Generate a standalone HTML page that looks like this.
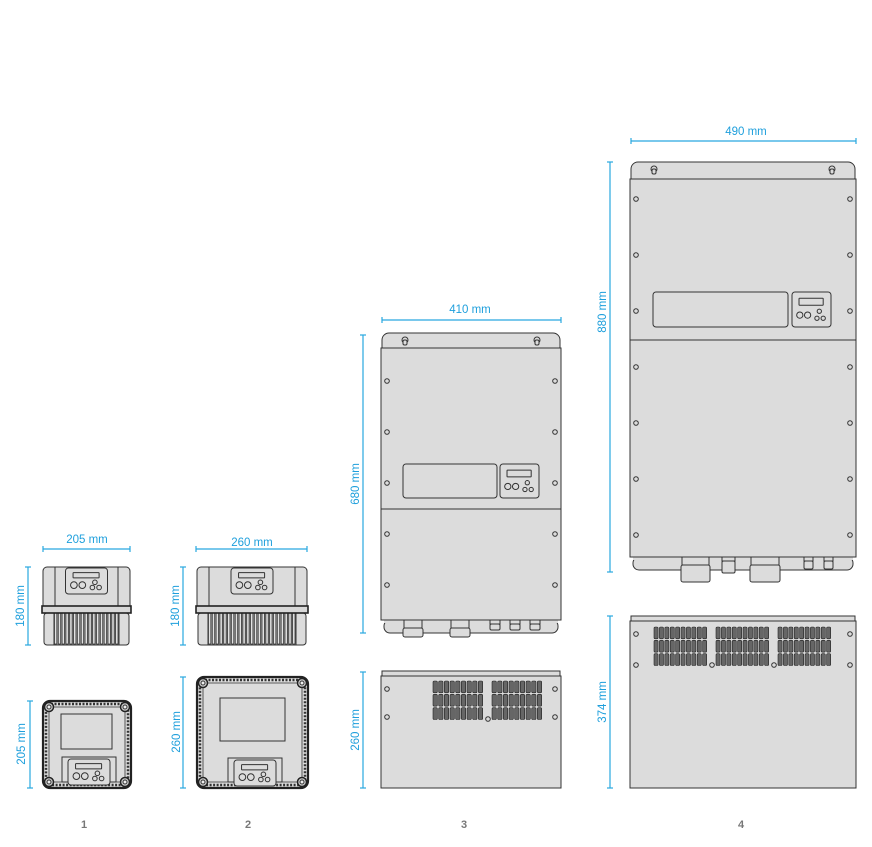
<!DOCTYPE html>
<html><head><meta charset="utf-8"><style>
html,body{margin:0;padding:0;background:#fff;width:872px;height:847px;overflow:hidden}
svg{display:block}
.dim{font-family:"Liberation Sans",sans-serif;font-size:11.5px;fill:#1e9fdc}
.lbl{font-family:"Liberation Sans",sans-serif;font-size:11px;font-weight:bold;fill:#777}
</style></head><body>
<svg id="s" width="872" height="847" viewBox="0 0 872 847" xmlns="http://www.w3.org/2000/svg">
<g id="g" fill="#dcdcdc" stroke="#333" stroke-width="1"></g>
<g stroke="#29a8e0" stroke-width="1.2" id="d"></g>
<text class="dim" x="87" y="543" text-anchor="middle">205 mm</text>
<text class="dim" x="252" y="546" text-anchor="middle">260 mm</text>
<text class="dim" x="470" y="313" text-anchor="middle">410 mm</text>
<text class="dim" x="746" y="135" text-anchor="middle">490 mm</text>
<text class="dim" transform="translate(24,606) rotate(-90)" text-anchor="middle">180 mm</text>
<text class="dim" transform="translate(179,606) rotate(-90)" text-anchor="middle">180 mm</text>
<text class="dim" transform="translate(25,744) rotate(-90)" text-anchor="middle">205 mm</text>
<text class="dim" transform="translate(180,732) rotate(-90)" text-anchor="middle">260 mm</text>
<text class="dim" transform="translate(359,484) rotate(-90)" text-anchor="middle">680 mm</text>
<text class="dim" transform="translate(359,730) rotate(-90)" text-anchor="middle">260 mm</text>
<text class="dim" transform="translate(606,312) rotate(-90)" text-anchor="middle">880 mm</text>
<text class="dim" transform="translate(606,702) rotate(-90)" text-anchor="middle">374 mm</text>
<text class="lbl" x="84" y="828" text-anchor="middle">1</text>
<text class="lbl" x="248" y="828" text-anchor="middle">2</text>
<text class="lbl" x="464" y="828" text-anchor="middle">3</text>
<text class="lbl" x="741" y="828" text-anchor="middle">4</text>
</svg>
<script>
var g=document.getElementById('g'),d=document.getElementById('d'),h='',dh='';
function R(x,y,w,hh,r,a){h+='<rect x="'+x+'" y="'+y+'" width="'+w+'" height="'+hh+'" rx="'+(r||0)+'" '+(a||'')+'/>';}
function C(x,y,r,a){h+='<circle cx="'+x+'" cy="'+y+'" r="'+r+'" '+(a||'')+'/>';}
function L(x1,y1,x2,y2,a){h+='<line x1="'+x1+'" y1="'+y1+'" x2="'+x2+'" y2="'+y2+'" '+(a||'')+'/>';}
function H(x1,x2,y){dh+='<line x1="'+x1+'" y1="'+y+'" x2="'+x2+'" y2="'+y+'"/><line x1="'+x1+'" y1="'+(y-3)+'" x2="'+x1+'" y2="'+(y+3)+'"/><line x1="'+x2+'" y1="'+(y-3)+'" x2="'+x2+'" y2="'+(y+3)+'"/>';}
function V(x,y1,y2){dh+='<line x1="'+x+'" y1="'+y1+'" x2="'+x+'" y2="'+y2+'"/><line x1="'+(x-3)+'" y1="'+y1+'" x2="'+(x+3)+'" y2="'+y1+'"/><line x1="'+(x-3)+'" y1="'+y2+'" x2="'+(x+3)+'" y2="'+y2+'"/>';}
function keypad(x,y,w,hh){R(x,y,w,hh,3);var s=w/40;R(x+w*0.18,y+hh*0.18,w*0.62,hh*0.2,0.5);C(x+w*0.2,y+hh*0.66,3.2*s);C(x+w*0.4,y+hh*0.66,3.2*s);C(x+w*0.7,y+hh*0.55,2.2*s);C(x+w*0.64,y+hh*0.75,2.2*s);C(x+w*0.8,y+hh*0.75,2.2*s);}
function front(x,y,w){
 R(x,y,w,42,4); L(x+12,y,x+12,y+40); L(x+w-12,y,x+w-12,y+40);
 var kw=42,kx=x+w/2-kw/2; keypad(kx,y+1,kw,26);
 R(x+1,y+46,w-2,32,3);
 R(x+11,y+46,w-22,32,0,'fill="#888"');
 var n=Math.round((w-22)/3.8);for(var i=0;i<n;i++){R(x+11.5+i*(w-22)/n,y+46,(w-22)/n*0.6,31,0.5,'fill="#e2e2e2" stroke="#333" stroke-width="0.7"');}
 R(x-1,y+39,w+2,7,0,'fill="#d8d8d8" stroke="#222" stroke-width="1.6"');
}
function back(x,y,w,hh,sx,sy,sw,sh,kx,ky,kw,kh){
 R(x,y,w,hh,7,'fill="#dcdcdc" stroke="#222" stroke-width="2.2"');
 R(x+3,y+3,w-6,hh-6,5,'fill="none" stroke="#333" stroke-width="2.5" stroke-dasharray="2 1.5"');
 R(x+6,y+6,w-12,hh-12,3,'stroke-width="0.8"');
 [[x+6,y+6],[x+w-6,y+6],[x+6,y+hh-6],[x+w-6,y+hh-6]].forEach(function(p){C(p[0],p[1],4.5,'fill="#ccc" stroke="#222" stroke-width="1.5"');C(p[0],p[1],2,'fill="#eee" stroke="#333"');});
 R(sx,sy,sw,sh,0);R(kx-6,ky-2,kw+12,hh-(ky-y)-4,0);keypad(kx,ky,kw,kh);
}
function tall(x,y,w,top,div,bot,disp,screws,conns){
 R(x+1,y,w-2,top+6,7);
 [x+24,x+w-24].forEach(function(cx){C(cx,y+7,3);R(cx-2,y+7,4,5,1.5);});
 R(x,y+top,w,bot-y-top,0);L(x,div,x+w,div);
 R(x+3,bot,w-6,13,6);R(x+3,bot-1,w-6,4,0,'stroke="none"');L(x,bot,x+w,bot);
 R(disp[0],disp[1],disp[2],disp[3],3);keypad(disp[4],disp[1],disp[5],disp[3]);
 screws.forEach(function(sy){C(x+6,sy,2.3);C(x+w-6,sy,2.3);});
 conns.forEach(function(c){ if(c[2]>15){R(c[0]+1,bot,c[2]-2,8,0);R(c[0],bot+8,c[2],c[3]-8,2);}else{R(c[0],bot,c[2],4,0);R(c[0],bot+4,c[2],c[3]-4,1.5);} });
}
function side(x,y,w,hh,vx,vy,vw,vh,groups,screws){
 R(x+1,y,w-2,5,0);R(x,y+5,w,hh-5,0);
 screws.forEach(function(sy){C(x+6,sy,2.3);C(x+w-6,sy,2.3);});
 var gw=(vw-(groups-1)*8)/groups;
 for(var g2=0;g2<groups;g2++){var gx=vx+g2*(gw+8);var n=Math.round(gw/5.5);
  for(var r=0;r<3;r++)for(var i=0;i<n;i++){R(gx+i*gw/n,vy+r*vh/3,gw/n-1.3,vh/3-1.5,1.3,'fill="#666" stroke="#222" stroke-width="0.6"');}
  if(g2<groups-1)C(gx+gw+4,vy+vh-2,2.3);}
}
front(43,567,87);
front(197,567,110);
back(43,701,88,87,61,714,51,35,68,759,42,26);
back(197,677,111,111,220,698,65,43,234,760,42,26);
tall(381,333,180,15,509,620,[403,464,94,34,500,39],[381,432,483,534,585],[[403,0,20,17],[450,0,20,17],[490,0,10,10],[510,0,10,10],[530,0,10,10]]);
tall(630,162,226,17,340,557,[653,292,135,35,792,39],[199,255,311,367,423,479,535],[[681,0,29,25],[750,0,30,25],[722,0,13,16],[804,0,9,12],[824,0,9,12]]);
side(381,671,180,117,433,681,110,40,2,[689,717]);
side(630,616,226,172,654,627,178,40,3,[634,665]);
H(43,130,549);H(196,307,549);H(382,561,320);H(631,856,141);
V(28,567,645);V(183,567,645);V(30,701,788);V(183,677,788);V(363,335,633);V(363,672,788);V(610,162,572);V(610,616,788);
g.innerHTML=h;d.innerHTML=dh;
</script>
</body></html>
